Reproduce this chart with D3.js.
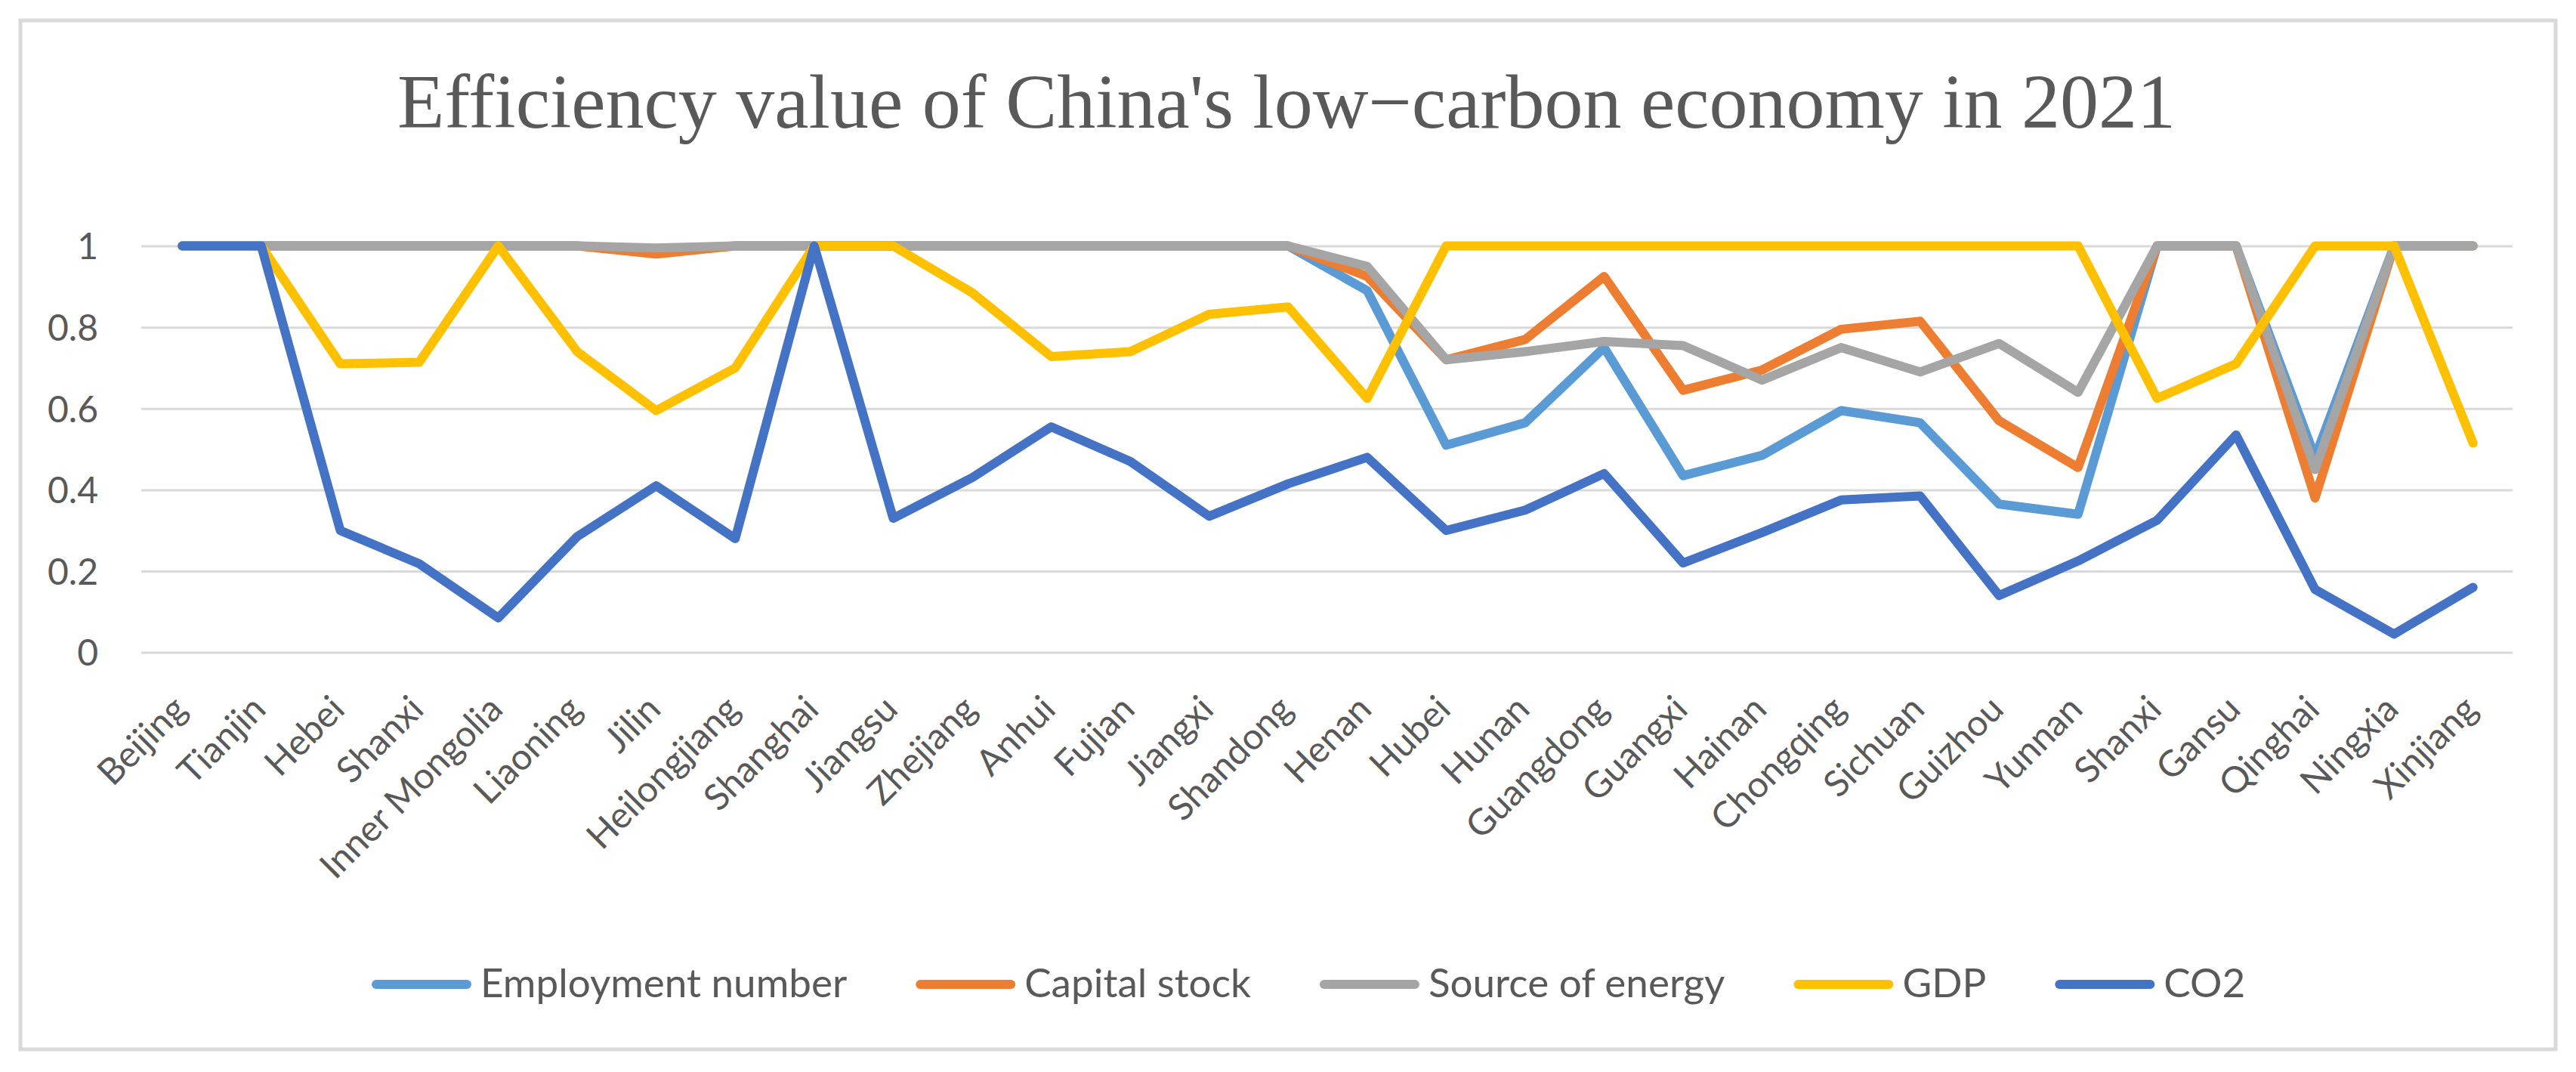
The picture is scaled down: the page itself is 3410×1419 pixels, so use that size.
<!DOCTYPE html>
<html><head><meta charset="utf-8">
<script src="https://cdn.jsdelivr.net/npm/d3@7"></script>
<style>html,body{margin:0;padding:0;background:#fff;} svg{display:block;}</style>
</head><body>
<svg id="chart" width="3410" height="1419"></svg>
<script>
const categories = ["Beijing","Tianjin","Hebei","Shanxi","Inner Mongolia","Liaoning","Jilin","Heilongjiang","Shanghai","Jiangsu","Zhejiang","Anhui","Fujian","Jiangxi","Shandong","Henan","Hubei","Hunan","Guangdong","Guangxi","Hainan","Chongqing","Sichuan","Guizhou","Yunnan","Shanxi","Gansu","Qinghai","Ningxia","Xinjiang"];
const employmentNumber = [1,1,1,1,1,1,0.99,1,1,1,1,1,1,1,1,0.89,0.51,0.565,0.75,0.435,0.485,0.595,0.565,0.365,0.34,1,1,0.48,1,1];
const capitalStock = [1,1,1,1,1,1,0.98,1,1,1,1,1,1,1,1,0.925,0.72,0.77,0.925,0.645,0.695,0.795,0.815,0.57,0.455,1,1,0.38,1,1];
const sourceOfEnergy = [1,1,1,1,1,1,0.995,1,1,1,1,1,1,1,1,0.95,0.72,0.74,0.765,0.755,0.67,0.75,0.69,0.76,0.64,1,1,0.45,1,1];
const gdp = [1,1,0.71,0.714,1,0.74,0.595,0.70,1,1,0.885,0.728,0.74,0.832,0.85,0.625,1,1,1,1,1,1,1,1,1,0.625,0.71,1,1,0.515];
const co2 = [1,1,0.30,0.218,0.085,0.285,0.41,0.28,1,0.33,0.43,0.555,0.47,0.335,0.415,0.48,0.30,0.35,0.44,0.22,0.295,0.375,0.385,0.14,0.225,0.325,0.535,0.155,0.045,0.16];
const seriesNames = ["Employment number","Capital stock","Source of energy","GDP","CO2"];
const seriesValues = [employmentNumber, capitalStock, sourceOfEnergy, gdp, co2];
const seriesColors = ["#5B9BD5","#ED7D31","#A5A5A5","#FFC000","#4472C4"];
const yTickValues = [0,0.2,0.4,0.6,0.8,1];
const yTickLabels = ["0","0.2","0.4","0.6","0.8","1"];
const titleText = "Efficiency value of China's low\u2212carbon economy in 2021";

const W = 3410, H = 1419;
const textColor = "#595959";
const sans = "Lato, 'Open Sans', sans-serif";
const svg = d3.select("#chart");
svg.append("rect").attr("width", W).attr("height", H).attr("fill", "#fff");
svg.append("rect").attr("x", 27).attr("y", 27).attr("width", 3356).attr("height", 1362)
  .attr("fill", "#fff").attr("stroke", "#d9d9d9").attr("stroke-width", 5);

const plot = {left: 189, right: 3326, top: 325.6, bottom: 863.6};
const x = d3.scalePoint().domain(d3.range(categories.length)).range([plot.left, plot.right]).padding(0.5);
const y = d3.scaleLinear().domain([0, 1]).range([plot.bottom, plot.top]);

// title
svg.append("text").attr("x", 1703).attr("y", 169).attr("text-anchor", "middle")
  .attr("font-family", "'Liberation Serif', 'Times New Roman', serif").attr("font-size", 102)
  .attr("fill", textColor).text(titleText);

// y axis with gridlines
const yAxis = d3.axisLeft(y).tickValues(yTickValues)
  .tickFormat((d, i) => yTickLabels[i])
  .tickSize(-(plot.right - plot.left + 2)).tickPadding(57);
const gy = svg.append("g").attr("transform", `translate(${plot.left - 2},0)`).call(yAxis);
gy.select(".domain").remove();
gy.selectAll("line").attr("stroke", "#d9d9d9").attr("stroke-width", 3);
gy.selectAll("text").attr("font-family", sans).attr("font-size", 48).attr("fill", textColor)
  .attr("dy", "0.36em");

// x axis labels
const xAxis = d3.axisBottom(x).tickSize(0).tickFormat(i => categories[i]);
const gx = svg.append("g").attr("transform", `translate(0,${plot.bottom})`).call(xAxis);
gx.select(".domain").remove();
gx.selectAll("text").attr("font-family", sans).attr("font-size", 48).attr("fill", textColor)
  .attr("x", 0).attr("y", 0).attr("dy", 0).attr("text-anchor", "end")
  .attr("transform", "translate(8,78) rotate(-45)");

// lines
const line = d3.line().x((d, i) => x(i)).y(d => y(d));
svg.append("g").selectAll("path").data(seriesValues).join("path")
  .attr("d", d => line(d)).attr("fill", "none")
  .attr("stroke", (d, i) => seriesColors[i]).attr("stroke-width", 12)
  .attr("stroke-linejoin", "round").attr("stroke-linecap", "round");

// legend
const legend = svg.append("g");
let lx = 492;
const swatchLen = 132, legendY = 1303;
seriesNames.forEach((name, i) => {
  legend.append("line").attr("x1", lx + 6).attr("x2", lx + swatchLen - 6)
    .attr("y1", legendY).attr("y2", legendY)
    .attr("stroke", seriesColors[i]).attr("stroke-width", 12).attr("stroke-linecap", "round");
  const t = legend.append("text").attr("x", lx + swatchLen + 12).attr("y", 1320)
    .attr("font-family", sans).attr("font-size", 53).attr("fill", textColor).text(name);
  const w = t.node().getComputedTextLength();
  lx = lx + swatchLen + 12 + w + 91;
});
</script>
</body></html>
